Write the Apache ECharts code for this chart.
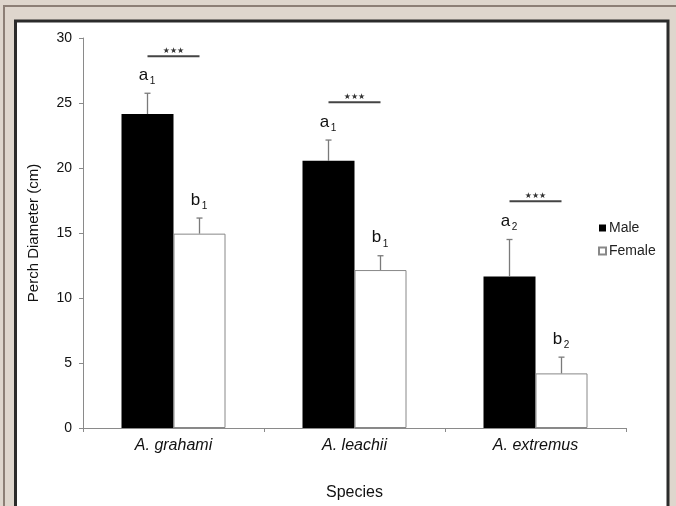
<!DOCTYPE html>
<html>
<head>
<meta charset="utf-8">
<script src="https://cdn.jsdelivr.net/npm/echarts@6/dist/echarts.min.js"></script>
<style>html,body{margin:0;padding:0;background:#ded6cd;}#c{width:676px;height:506px;}</style>
</head>
<body>
<div id="c"></div>
<script>
// ---- data ----
var categories = ['A. grahami', 'A. leachii', 'A. extremus'];
var maleMean = [24.15, 20.55, 11.65];
var maleUpper = [25.75, 22.15, 14.5];
var femaleMean = [14.95, 12.15, 4.2];
var femaleUpper = [16.15, 13.25, 5.45];
var sigHeight = [28.6, 25.05, 17.45];
var sigText = ['★★★', '★★★', '★★★'];
var maleLetter = ['a', 'a', 'a'];
var maleSub = ['1', '1', '2'];
var femaleLetter = ['b', 'b', 'b'];
var femaleSub = ['1', '1', '2'];
var yTicks = [0, 5, 10, 15, 20, 25, 30];

var FONT = '"Liberation Sans", Arial, sans-serif';
var BAR_W = 52;
var chart = echarts.init(document.getElementById('c'), null, {renderer: 'canvas'});

function errData(mean, upper, letters, subs) {
  return categories.map(function (c, i) { return [i, mean[i], upper[i], letters[i], subs[i]]; });
}

function errRender(offset) {
  return function (params, api) {
    var top = api.coord([api.value(0), api.value(2)]);
    var base = api.coord([api.value(0), api.value(1)]);
    var x = top[0] + offset;
    var idx = params.dataIndex;
    var d = params.seriesIndex === 2 ? errMale[idx] : errFemale[idx];
    return {
      type: 'group',
      children: [
        {type: 'line', shape: {x1: x, y1: base[1], x2: x, y2: top[1]}, style: {stroke: '#7a7a7a', lineWidth: 1.3}},
        {type: 'line', shape: {x1: x - 3, y1: top[1], x2: x + 3, y2: top[1]}, style: {stroke: '#7a7a7a', lineWidth: 1.3}},
        {type: 'text', style: {text: d[3], x: x - 4, y: top[1] - 18, align: 'center', verticalAlign: 'middle', font: '17px ' + FONT, fill: '#111'}},
        {type: 'text', style: {text: d[4], x: x + 5, y: top[1] - 12, align: 'center', verticalAlign: 'middle', font: '10px ' + FONT, fill: '#111'}}
      ]
    };
  };
}
var errMale = errData(maleMean, maleUpper, maleLetter, maleSub);
var errFemale = errData(femaleMean, femaleUpper, femaleLetter, femaleSub);
var sigData = categories.map(function (c, i) { return [i, sigHeight[i], sigText[i]]; });

var option = {
  backgroundColor: '#ded6cd',
  animation: false,
  textStyle: {fontFamily: FONT},
  graphic: [
    {type: 'rect', z: -10, silent: true, shape: {x: 4, y: 6, width: 720, height: 600}, style: {fill: '#ded6cd', stroke: '#8c7f76', lineWidth: 2}},
    {type: 'rect', z: -9, silent: true, shape: {x: 15.5, y: 21, width: 652.5, height: 600}, style: {fill: '#ffffff', stroke: '#2b2b2b', lineWidth: 3}}
  ],
  grid: {left: 83, right: 50, top: 38, bottom: 78, containLabel: false},
  legend: {
    orient: 'vertical', left: 593, top: 216,
    itemWidth: 7, itemHeight: 7, itemGap: 9,
    icon: 'rect',
    data: ['Male', 'Female'],
    textStyle: {fontSize: 14, color: '#222', fontFamily: FONT, padding: [0, 0, 0, -2]}
  },
  xAxis: {
    type: 'category', data: categories,
    axisLine: {lineStyle: {color: '#8a8a8a', width: 1}},
    axisTick: {show: true, length: 4, lineStyle: {color: '#8a8a8a'}},
    axisLabel: {fontSize: 16, fontStyle: 'italic', color: '#111', margin: 10, fontFamily: FONT},
    name: 'Species', nameLocation: 'middle', nameGap: 57,
    nameTextStyle: {fontSize: 16, color: '#111', fontFamily: FONT}
  },
  yAxis: {
    type: 'value', min: 0, max: 30, interval: 5,
    axisLine: {show: true, lineStyle: {color: '#8a8a8a', width: 1}},
    axisTick: {show: true, length: 4, lineStyle: {color: '#8a8a8a'}},
    splitLine: {show: false},
    axisLabel: {fontSize: 14, color: '#111', margin: 11, fontFamily: FONT,
      formatter: function (v) { return yTicks.indexOf(v) >= 0 ? String(v) : ''; }},
    name: 'Perch Diameter (cm)', nameLocation: 'middle', nameGap: 42,
    nameTextStyle: {fontSize: 15, color: '#111', fontFamily: FONT}
  },
  series: [
    {name: 'Male', type: 'bar', data: maleMean, barWidth: BAR_W, barGap: '0%',
      itemStyle: {color: '#000000', borderColor: '#000000', borderWidth: 0}},
    {name: 'Female', type: 'bar', data: femaleMean, barWidth: BAR_W, barGap: '0%',
      itemStyle: {color: '#ffffff', borderColor: '#888888', borderWidth: 1}},
    {type: 'custom', name: 'errMale', data: errMale, renderItem: errRender(-BAR_W / 2), z: 5,
      encode: {x: 0, y: [1, 2]}},
    {type: 'custom', name: 'errFemale', data: errFemale, renderItem: errRender(BAR_W / 2), z: 5,
      encode: {x: 0, y: [1, 2]}},
    {type: 'custom', name: 'sig', data: sigData, z: 5, encode: {x: 0, y: 1},
      renderItem: function (params, api) {
        var p = api.coord([api.value(0), api.value(1)]);
        var x1 = p[0] - BAR_W / 2, x2 = p[0] + BAR_W / 2;
        return {type: 'group', children: [
          {type: 'line', shape: {x1: x1, y1: p[1], x2: x2, y2: p[1]}, style: {stroke: '#444', lineWidth: 2}},
          {type: 'text', style: {text: sigData[params.dataIndex][2], x: p[0], y: p[1] - 5, align: 'center', verticalAlign: 'middle', font: '8px "DejaVu Sans", sans-serif', fill: '#333'}}
        ]};
      }}
  ]
};
chart.setOption(option);
</script>
</body>
</html>
